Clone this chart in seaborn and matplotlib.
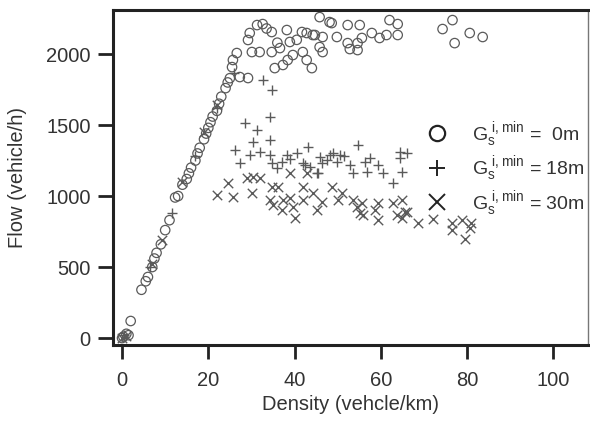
import numpy as np
import pandas as pd
import matplotlib
matplotlib.use("Agg")
import matplotlib.pyplot as plt
from matplotlib.lines import Line2D
import seaborn as sns

# G_s^{i,min} = 0m  (hollow circles)
circle_density = [0, 0.3, 1, 1.5, 2, 4.5, 5.5, 6, 7, 7.5, 8, 9, 10, 11, 12.3, 13, 14, 15, 15.5, 16,
                  17, 17.5, 18, 19, 19.5, 20, 20.5, 21, 22, 22.5, 23, 24, 24.5, 25, 25.5, 25.7, 26.6, 27.3, 29.2,
                  45.8, 48.1, 31.3, 32.6, 34.7, 29.6, 29.2, 38.2, 41.7, 44.2, 46.5, 49.8, 38.9, 36.6, 34.7,
                  30.1, 31.9, 39.6, 41.9, 38.4, 37.3, 35.4, 44.0, 42.8, 45.8,
                  48.6, 52.3, 55.1, 62.0, 63.9, 42.8, 44.7, 52.3, 54.6, 55.6, 57.9, 59.7, 61.3, 63.9, 46.5,
                  52.8, 54.6, 74.3, 76.6, 77.1, 80.6, 83.6, 33.5, 36.0, 40.5]
circle_flow = [0, 10, 30, 20, 120, 340, 400, 430, 500, 560, 600, 660, 760, 830, 990, 1000, 1080, 1120, 1160, 1200,
               1250, 1300, 1340, 1400, 1440, 1480, 1520, 1560, 1600, 1650, 1700, 1760, 1800, 1830, 1908, 1958, 2007, 1838, 1831,
               2260, 2225, 2204, 2211, 2155, 2148, 2099, 2169, 2155, 2134, 2120, 2120, 2085, 2042, 2014,
               2014, 2014, 1993, 2014, 1958, 1923, 1901, 1901, 1958, 2049,
               2218, 2204, 2204, 2239, 2211, 2148, 2134, 2077, 2077, 2113, 2148, 2113, 2134, 2134, 2014,
               2035, 2028, 2176, 2239, 2077, 2148, 2120, 2180, 2080, 2100]

# G_s^{i,min} = 18m  (plus)
plus_density = [0.5, 6.5, 11.5, 17, 22, 26, 32.6, 34.7, 34.3, 28.5, 31.3, 30.3, 34.3, 26.2, 27.3, 29.6,
                31.9, 34.3, 34.7, 35.9, 38.2, 40.5, 43.1, 38.9, 41.9, 43.5, 45.8, 48.1, 45.1, 47.5, 46.3,
                42.4, 48.8, 50.5, 49.8, 52.8, 54.6, 56.3, 57.4, 59.3, 56.7, 60.4, 62.7, 64.4, 64.4, 65.0,
                53.5, 45.4, 66.0, 37.0, 51.5]
plus_flow = [20, 500, 880, 1280, 1620, 1870, 1817, 1746, 1556, 1514, 1465, 1380, 1394, 1324, 1232, 1289,
             1310, 1289, 1232, 1197, 1289, 1303, 1345, 1261, 1232, 1204, 1275, 1289, 1162, 1254, 1232,
             1218, 1303, 1289, 1239, 1218, 1359, 1239, 1268, 1218, 1169, 1162, 1092, 1310, 1268, 1169,
             1162, 1162, 1303, 1240, 1280]

# G_s^{i,min} = 30m  (cross)
cross_density = [0, 1, 7, 9.3, 14, 19, 22, 25.7, 24.5, 30.1, 28.9, 30.3, 31.9, 34.7, 36.1, 34.3, 35.0,
                 37.3, 38.9, 39.6, 40.0, 37.0, 38.9, 41.9, 41.9, 42.8, 44.2, 45.1, 46.3, 48.6, 50.9, 50.0,
                 53.5, 54.4, 55.1, 55.8, 55.6, 59.3, 59.3, 58.6, 62.7, 64.8, 63.7, 66.0, 65.5, 65.0, 68.5,
                 72.0, 76.4, 76.4, 78.9, 80.6, 79.4, 81.0, 22.0]
cross_flow = [0, 15, 520, 690, 1100, 1450, 1640, 993, 1092, 1021, 1127, 1134, 1127, 1063, 1063, 972, 937,
              972, 986, 923, 845, 901, 1162, 1063, 972, 1162, 1021, 901, 958, 1063, 1021, 972,
              972, 923, 880, 866, 951, 951, 831, 901, 951, 972, 866, 887, 887, 845, 810, 838,
              810, 761, 831, 775, 697, 810, 1007]

labels = [r"$\mathregular{G_s^{\ i,min}}$ =  0m",
          r"$\mathregular{G_s^{\ i,min}}$ = 18m",
          r"$\mathregular{G_s^{\ i,min}}$ = 30m"]

x_ticks = [0, 20, 40, 60, 80, 100]
y_ticks = [0, 500, 1000, 1500, 2000]

sns.set_style("white")
plt.rcParams["font.family"] = ["Liberation Sans", "DejaVu Sans"]
plt.rcParams["mathtext.fontset"] = "custom"
plt.rcParams["mathtext.rm"] = "Liberation Sans"

fig = plt.figure(figsize=(5.9, 4.21), dpi=100)
ax = fig.add_axes([0.1915, 0.1805, 0.805, 0.7957])

grey = "#5a5a5a"
sns.scatterplot(x=circle_density, y=circle_flow, marker="o", s=46, ax=ax,
                color=grey, edgecolor=grey, linewidth=0.9)
ax.collections[-1].set_facecolor("none")
sns.scatterplot(x=plus_density, y=plus_flow, marker="+", s=46, ax=ax,
                color=grey, linewidth=1.0)
sns.scatterplot(x=cross_density, y=cross_flow, marker="x", s=46, ax=ax,
                color=grey, linewidth=1.0)

ax.set_xlim(-2.1, 108)
ax.set_ylim(-49, 2310)
ax.set_xticks(x_ticks)
ax.set_yticks(y_ticks)
ax.tick_params(axis="both", direction="out", width=2, color="#222",
               labelsize=14.5, labelcolor="#333", bottom=True, left=True)
ax.tick_params(axis="y", length=11, pad=5)
ax.tick_params(axis="x", length=10, pad=9)
for side in ["left", "bottom", "top"]:
    ax.spines[side].set_linewidth(2.2)
    ax.spines[side].set_color("#222")
ax.spines["right"].set_linewidth(1.0)
ax.spines["right"].set_color("#777")

ax.set_xlabel("Density (vehcle/km)", fontsize=14.5, color="#333", labelpad=3)
ax.set_ylabel("Flow (vehicle/h)", fontsize=14.5, color="#333", labelpad=14)

handles = [Line2D([], [], marker="o", ls="", ms=11, mfc="none", mec="#222", mew=1.6),
           Line2D([], [], marker="+", ls="", ms=12, mec="#222", mew=1.4),
           Line2D([], [], marker="x", ls="", ms=11, mec="#222", mew=1.4)]
ax.legend(handles, labels, loc="upper left", bbox_to_anchor=(0.605, 0.725), frameon=False,
          fontsize=14, handletextpad=0.8, labelspacing=0.3, labelcolor="#333")

fig.savefig("out.png", dpi=100)
